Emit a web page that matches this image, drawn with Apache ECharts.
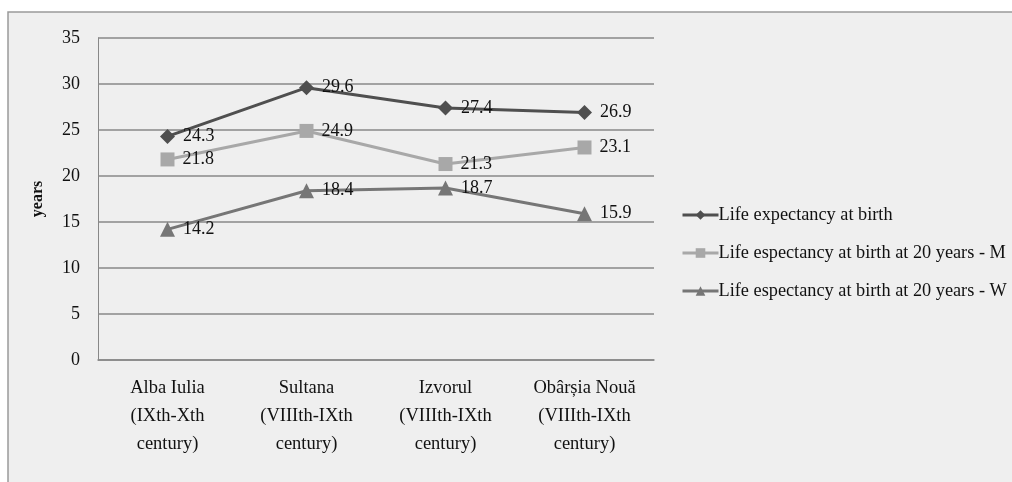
<!DOCTYPE html>
<html><head><meta charset="utf-8">
<script src="https://cdn.jsdelivr.net/npm/echarts@6/dist/echarts.min.js"></script>
<style>html,body{margin:0;padding:0;background:#fff;}#c{width:1012px;height:482px;}</style>
</head><body><div id="c"></div>
<script>
const categories = ["Alba Iulia\n(IXth-Xth\ncentury)", "Sultana\n(VIIIth-IXth\ncentury)", "Izvorul\n(VIIIth-IXth\ncentury)", "Obârșia Nouă\n(VIIIth-IXth\ncentury)"];
const birth = [24.3, 29.6, 27.4, 26.9];
const men20 = [21.8, 24.9, 21.3, 23.1];
const women20 = [14.2, 18.4, 18.7, 15.9];
const names = ["Life expectancy at birth", "Life espectancy at birth at 20 years - M", "Life espectancy at birth at 20 years - W"];
const yTicks = [0, 5, 10, 15, 20, 25, 30, 35];

const font = "'Liberation Serif', 'DejaVu Serif', serif";
const chart = echarts.init(document.getElementById('c'));
function ser(name, data, color, symbol, size) {
  return {
    name, type: 'line', data, symbol, symbolSize: size,
    lineStyle: {color, width: 3}, itemStyle: {color},
    label: {show: true, position: 'right', distance: 8, color: '#111', fontFamily: font, fontSize: 18, formatter: p => p.value.toFixed(1)},
    z: 3
  };
}
chart.setOption({
  backgroundColor: '#fff',
  animation: false,
  graphic: [
    {type: 'rect', z: -10, shape: {x: 8, y: 12, width: 1010, height: 475}, style: {fill: '#efefef', stroke: '#9a9a9a', lineWidth: 1.5}}
  ],
  grid: {left: 98, right: 358, top: 38, bottom: 122},
  xAxis: {
    type: 'category', data: categories, boundaryGap: true,
    axisLine: {lineStyle: {color: '#888', width: 1.5}},
    axisTick: {show: false},
    axisLabel: {color: '#111', fontFamily: font, fontSize: 18.5, lineHeight: 28, margin: 14, interval: 0}
  },
  yAxis: {
    type: 'value', min: 0, max: 35, interval: 5,
    name: 'years', nameLocation: 'middle', nameGap: 52,
    nameTextStyle: {color: '#111', fontFamily: font, fontSize: 16, fontWeight: 'bold'},
    axisLine: {show: true, lineStyle: {color: '#888', width: 1}},
    axisTick: {show: false},
    axisLabel: {color: '#111', fontFamily: font, fontSize: 18, margin: 18, formatter: v => yTicks.includes(v) ? String(v) : ''},
    splitLine: {lineStyle: {color: '#888', width: 1.5}}
  },
  legend: {
    orient: 'vertical', left: 676, top: 201, itemGap: 20, itemWidth: 36, itemHeight: 12,
    lineStyle: {width: 3},
    textStyle: {color: '#111', fontFamily: font, fontSize: 18.3, padding: [0, 0, 0, -5]},
    data: names.map(n => ({name: n}))
  },
  series: [
    ser(names[0], birth, '#4f4f4f', 'diamond', 15),
    ser(names[1], men20, '#a8a8a8', 'rect', 14),
    ser(names[2], women20, '#767676', 'triangle', 15)
  ]
});
</script></body></html>
